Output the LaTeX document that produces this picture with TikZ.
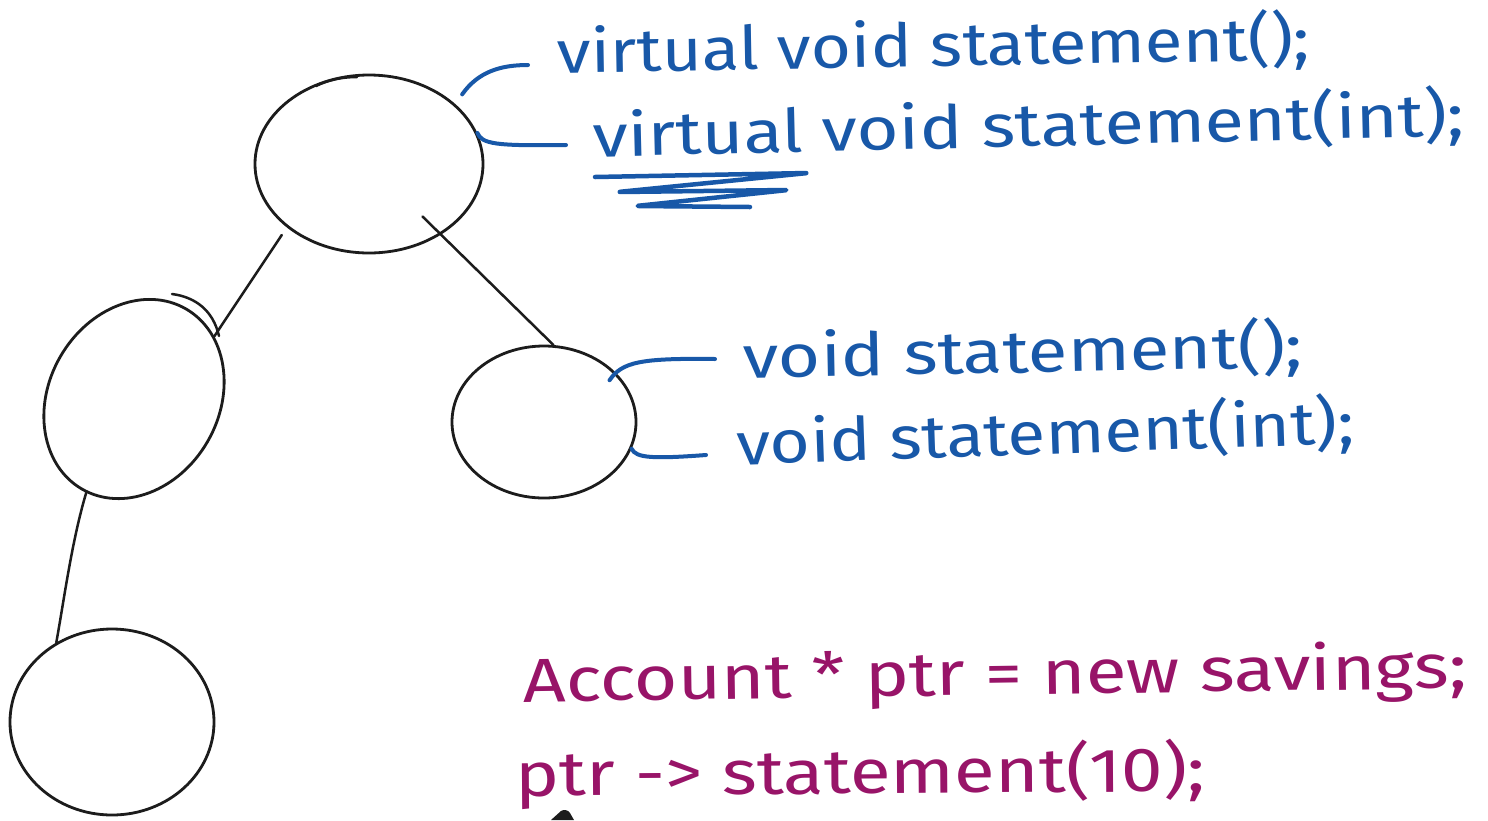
\documentclass[tikz,border=0pt]{standalone}
\usepackage{fontspec}
\setmainfont{Fira Sans}
\usetikzlibrary{shapes.geometric,calc}

\definecolor{ink}{RGB}{28,28,28}
\definecolor{penblue}{RGB}{24,88,168}
\definecolor{penmag}{RGB}{152,20,104}

\tikzset{
  bubble/.style={draw=ink, line width=2.8pt, ellipse, inner sep=0pt},
  link/.style={draw=ink, line width=2.5pt, line cap=round},
  brace/.style={draw=penblue, line width=4pt, line cap=round, line join=round},
  code/.style={anchor=base west, inner sep=0pt, text=penblue,
               font=\fontsize{60}{60}\selectfont},
  note/.style={code, text=penmag, font=\fontsize{62}{62}\selectfont},
}
% stretch a line of text to a given width, keeping its height
\newcommand\fitto[2]{\resizebox{#1pt}{\height}{#2}}

\begin{document}
\begin{tikzpicture}[x=1pt,y=-1pt]
\fill[white] (0,0) rectangle (1488,820);
\useasboundingbox (0,0) rectangle (1488,820);

% class hierarchy
\node[bubble, minimum width=228pt, minimum height=178pt] (root) at (369,164) {};
\node[bubble, rotate=60, minimum width=208pt, minimum height=170pt] (left) at (134,399) {};
\node[bubble, minimum width=184pt, minimum height=152pt] (right) at (544,422) {};
\node[bubble, minimum width=204pt, minimum height=186pt] (leaf) at (112,722) {};

% pen overshoots on the outlines
\draw[link] (316,86) .. controls (328,80) and (342,77) .. (357,77);
\draw[link] (172,294) .. controls (195,297) and (213,310) .. (219,336);

% inheritance links
\draw[link] ([shift={(-7,6)}]root.219) -- (left.338);
\draw[link] ($(root.center)!0.29!(right.83)$) -- (right.83);
\draw[link] (left.183) .. controls (72,540) and (64,600) .. (leaf.125);

% method declarations
\node[code, rotate=1]   (s1) at (557,73)  {\fitto{753}{virtual void statement();}};
\node[code, rotate=1.4] (s2) at (593,157) {\fitto{872}{virtual void statement(int);}};
\node[code, rotate=1.1] (s3) at (743,378) {\fitto{560}{void statement();}};
\node[code, rotate=2]   (s4) at (737,465) {\fitto{618}{void statement(int);}};

% ends of the pen strokes beside the declarations
\coordinate (e1) at (528,65);
\coordinate (e2) at (566,145);
\coordinate (e3) at (715,359);
\coordinate (e4) at (706,455);

\draw[brace] ([shift={(10,-7)}]root.37) .. controls (478,72) and (500,65) .. (e1);
\draw[brace] (root.16) .. controls (482,144) and (495,146) .. (e2);
\draw[brace] ([shift={(-8,6)}]right.33) .. controls (622,362) and (640,358) .. (e3);
\draw[brace] (right.-17) .. controls (636,458) and (652,459) .. (e4);

% emphasis under "virtual"
\draw[brace, line width=4.5pt, rounded corners=3pt]
  (595,177) -- (808,173) -- (618,192) -- (788,190) -- (636,206) -- (750,207);

% call through a base pointer
\node[note, rotate=0.85] (c1) at (523,702) {\fitto{944}{Account * ptr = new savings;}};
\node[note, rotate=0.4]  (c2) at (515,796) {\fitto{690}{ptr -> statement(10);}};

% pen cursor tip
\fill[ink] (551,820) -- (561,811) .. controls (564,809) and (568,810) .. (570,813) -- (574,820) -- cycle;
\end{tikzpicture}
\end{document}
